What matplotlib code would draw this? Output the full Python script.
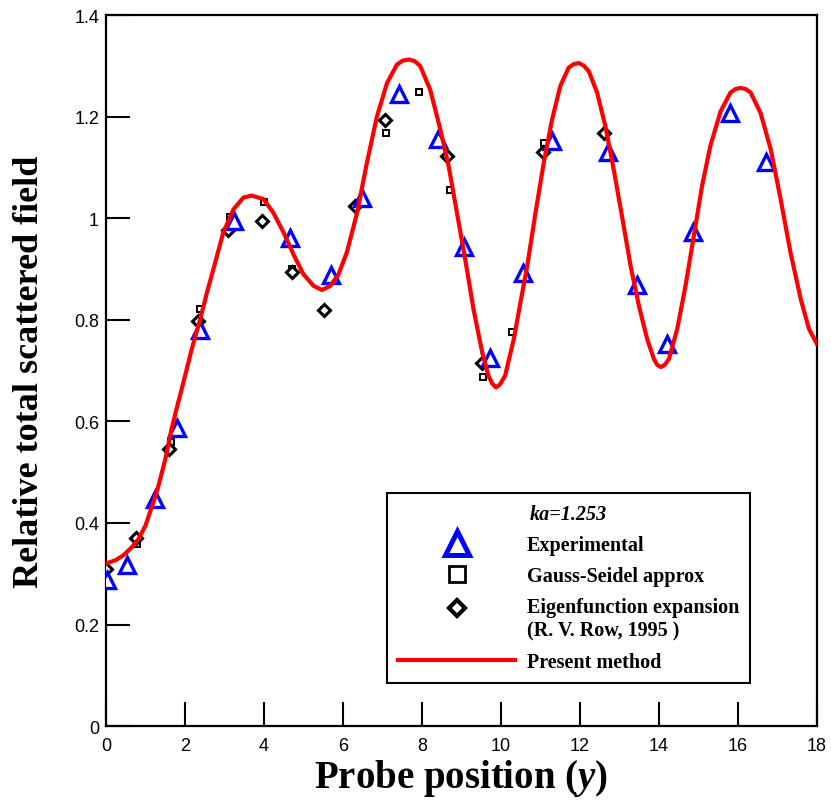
import matplotlib
matplotlib.use('Agg')
import matplotlib.pyplot as plt
from matplotlib.lines import Line2D
from matplotlib.legend_handler import HandlerLine2D

plt.rcParams['font.family'] = 'Liberation Serif'
plt.rcParams['mathtext.fontset'] = 'custom'
plt.rcParams['mathtext.it'] = 'Liberation Serif:italic:bold'
plt.rcParams['mathtext.rm'] = 'Liberation Serif:bold'

# Present method (red curve)
curve_x = [0.00, 0.25, 0.45, 0.65, 0.82, 1.00, 1.13, 1.30, 1.50, 1.66, 1.82, 1.98,
           2.17, 2.38, 2.55, 2.72, 2.97, 3.23, 3.48, 3.69, 3.99, 4.24, 4.50, 4.75,
           5.00, 5.26, 5.47, 5.68, 5.89, 6.10, 6.36, 6.61, 6.86, 7.12, 7.37, 7.52, 7.67,
           7.82, 7.96, 8.21, 8.47, 8.68, 8.89, 9.10, 9.31, 9.53, 9.69, 9.78, 9.88, 9.98,
           10.11, 10.33, 10.50, 10.67, 10.88, 11.09, 11.30, 11.51, 11.72, 11.85, 11.98,
           12.10, 12.23, 12.44, 12.65, 12.86, 13.07, 13.29, 13.50, 13.71, 13.88, 13.97,
           14.06, 14.16, 14.26, 14.47, 14.68, 14.89, 15.10, 15.31, 15.57, 15.82, 15.95,
           16.07, 16.20, 16.33, 16.58, 16.84, 17.09, 17.34, 17.60, 17.81, 18.00]
curve_y = [0.320, 0.327, 0.337, 0.352, 0.368, 0.395, 0.425, 0.465, 0.525, 0.585, 0.635, 0.683,
           0.742, 0.800, 0.852, 0.900, 0.972, 1.018, 1.041, 1.045, 1.038, 1.011, 0.972, 0.929,
           0.890, 0.867, 0.859, 0.867, 0.890, 0.933, 1.011, 1.110, 1.200, 1.267, 1.303, 1.311, 1.313,
           1.310, 1.300, 1.254, 1.175, 1.103, 1.011, 0.919, 0.821, 0.736, 0.690, 0.675, 0.667, 0.673,
           0.690, 0.762, 0.835, 0.906, 1.011, 1.110, 1.195, 1.261, 1.297, 1.304, 1.306,
           1.301, 1.290, 1.248, 1.182, 1.097, 1.005, 0.906, 0.828, 0.762, 0.723, 0.711,
           0.707, 0.712, 0.723, 0.782, 0.867, 0.965, 1.064, 1.143, 1.211, 1.248, 1.255,
           1.257, 1.255, 1.248, 1.208, 1.136, 1.038, 0.933, 0.841, 0.782, 0.754]

# Experimental
exp_x = [0.03, 0.54, 1.24, 1.79, 2.37, 3.23, 4.67, 5.70, 6.48, 7.43, 8.40, 9.08,
         9.72, 10.56, 11.30, 12.71, 13.44, 14.20, 14.87, 15.80, 16.72]
exp_y = [0.287, 0.317, 0.448, 0.588, 0.780, 0.995, 0.962, 0.888, 1.041, 1.246, 1.156, 0.943,
         0.726, 0.893, 1.152, 1.130, 0.868, 0.752, 0.973, 1.208, 1.111]

# Gauss-Seidel approx
gs_x = [0.00, 0.79, 1.64, 2.37, 3.14, 4.00, 4.72, 5.53, 7.10, 7.94, 8.72, 9.54, 10.28, 11.10]
gs_y = [0.300, 0.358, 0.559, 0.821, 1.002, 1.033, 0.901, 0.820, 1.168, 1.250, 1.056, 0.688, 0.776, 1.149]

# Eigenfunction expansion (R. V. Row, 1995)
eig_x = [0.00, 0.76, 1.60, 2.34, 3.10, 3.95, 4.72, 5.53, 6.30, 7.06, 8.65, 9.53, 11.07, 12.61]
eig_y = [0.309, 0.370, 0.545, 0.798, 0.977, 0.995, 0.895, 0.820, 1.024, 1.193, 1.122, 0.715, 1.131, 1.169]

xticks = list(range(0, 19, 2))
yticks = [0, 0.2, 0.4, 0.6, 0.8, 1, 1.2, 1.4]
ytick_labels = ['0', '0.2', '0.4', '0.6', '0.8', '1', '1.2', '1.4']


class HandlerUp(HandlerLine2D):
    # centre the marker on a two-line label
    def create_artists(self, legend, orig_handle, xdescent, ydescent, width, height, fontsize, trans):
        return super().create_artists(legend, orig_handle, xdescent, ydescent - 1.15 * fontsize,
                                      width, height, fontsize, trans)


fig = plt.figure(figsize=(8.31, 8.03), dpi=100)
ax = fig.add_axes([0.1276, 0.0946, 0.855, 0.885])

ax.plot(gs_x, gs_y, ls='none', marker='s', ms=5, mfc='white', mec='black', mew=1.4, zorder=3)
ax.plot(eig_x, eig_y, ls='none', marker='D', ms=6.5, mfc='white', mec='black', mew=2.2, zorder=3)
ax.plot(exp_x, exp_y, ls='none', marker='^', ms=11, mfc='white', mec='blue', mew=2.4, zorder=3)
ax.plot(curve_x, curve_y, color='red', lw=3, zorder=4)

ax.set_xlim(0, 18)
ax.set_ylim(0, 1.4)
ax.set_xticks(xticks)
ax.set_yticks(yticks)
ax.set_yticklabels(ytick_labels)
for lab in ax.get_xticklabels() + ax.get_yticklabels():
    lab.set_family('Liberation Sans')
ax.tick_params(direction='in', length=17, width=1.5, labelsize=13)
ax.tick_params(axis='x', pad=8)
ax.tick_params(axis='y', pad=5)
for s in ax.spines.values():
    s.set_linewidth(1.6)

ax.set_xlabel('Probe position ($y$)', fontsize=28, fontweight='bold', labelpad=2)
ax.set_ylabel('Relative total scattered field', fontsize=26, fontweight='bold', labelpad=20)

h_exp = Line2D([], [], ls='none', marker='^', ms=17, mfc='white', mec='blue', mew=3.6)
h_gs = Line2D([], [], ls='none', marker='s', ms=12, mfc='white', mec='black', mew=2)
h_eig = Line2D([], [], ls='none', marker='D', ms=8.5, mfc='white', mec='black', mew=3)
h_pm = Line2D([], [], color='red', lw=3)
leg = ax.legend([h_exp, h_gs, h_eig, h_pm],
                ['Experimental', 'Gauss-Seidel approx',
                 'Eigenfunction expansion\n(R. V. Row, 1995 )', 'Present method'],
                handler_map={h_eig: HandlerUp()},
                title='ka=1.253',
                title_fontproperties={'family': 'Liberation Serif', 'style': 'italic',
                                      'weight': 'bold', 'size': 14.5},
                prop={'family': 'Liberation Serif', 'weight': 'bold', 'size': 14.5},
                loc='lower left', bbox_to_anchor=(0.3955, 0.0605),
                borderaxespad=0, handlelength=5.8, handletextpad=0.6,
                labelspacing=0.55, borderpad=0.55, fancybox=False, framealpha=1)
leg.get_frame().set_edgecolor('black')
leg.get_frame().set_linewidth(1.5)
for t in leg.get_texts():
    t.set_linespacing(1.27)

fig.savefig('out.png', dpi=100)
